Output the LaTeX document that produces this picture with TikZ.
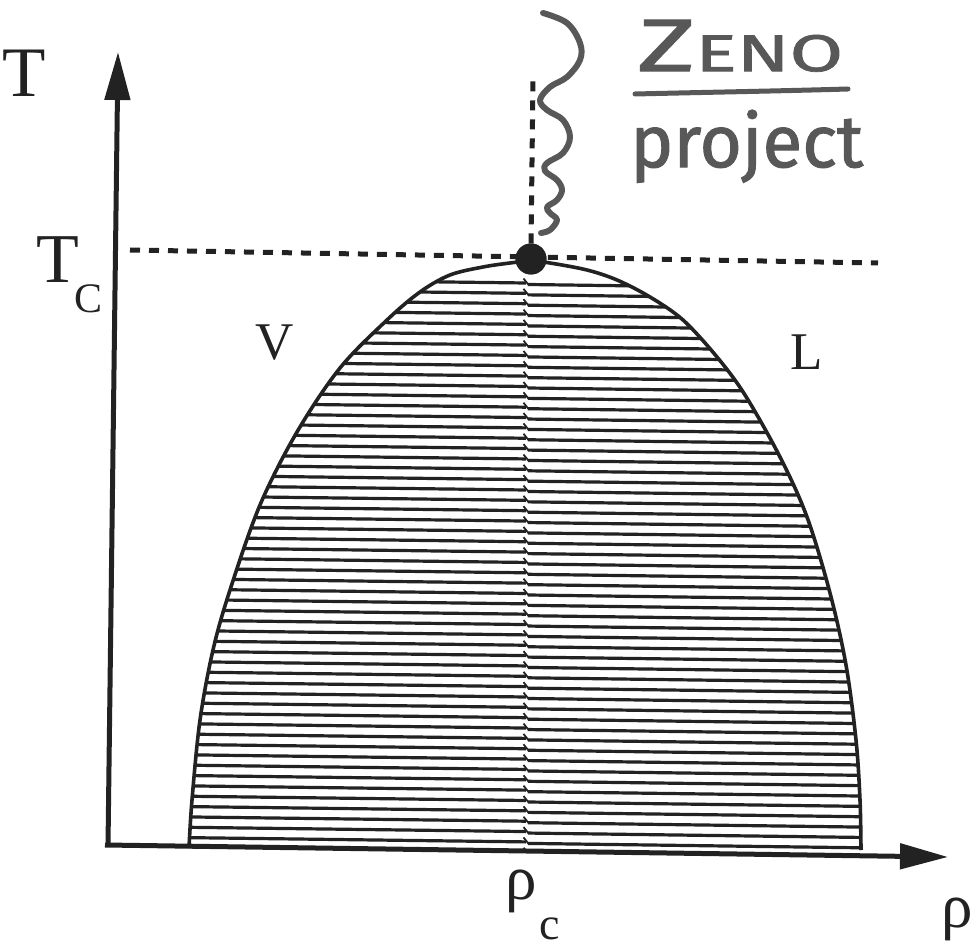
\documentclass[tikz,border=0pt]{standalone}
\usepackage{fontspec}
\setmainfont{Liberation Serif}
\newfontfamily\handfont[FakeBold=1.3]{Fira Sans}
\usetikzlibrary{arrows.meta}
\definecolor{ink}{HTML}{222222}
\definecolor{pencil}{HTML}{585858}
\begin{document}
\begin{tikzpicture}[x=1pt,y=-1pt,
  axis/.style={draw=ink,line width=5pt,-{Triangle[length=48pt,width=25pt]}},
  dashline/.style={draw=ink,line width=5pt,dash pattern=on 10pt off 9pt},
  hatch/.style={draw=ink,line width=3.2pt},
  seam/.style={draw=ink,line width=1.8pt},
  outline/.style={draw=ink,line width=3.6pt},
  lab/.style={inner sep=0pt,text=ink},
  hand/.style={inner sep=0pt,text=pencil,font=\handfont},
  scribble/.style={draw=pencil,line width=6pt,line cap=round,line join=round}]
\useasboundingbox (0,0) rectangle (980,949);
\def\domepath{plot[smooth,tension=0.55] coordinates {(189,848) (192,800) (200,720) (213,650) (230,590) (260,505) (297,432) (340,368) (387,320) (420,292) (450,275) (483,267) (510,263) (531,261) (550,263) (587,270) (617,280) (650,297) (683,320) (717,357) (745,395) (780,457) (807,517) (830,593) (846,665) (856,740) (860,800) (861,850)}}
% axes
\coordinate (o) at (108,846);
\coordinate (ytip) at (118,52);
\coordinate (xtip) at (948,857);
\draw[axis] (o) -- (ytip);
\draw[axis] (105,845) coordinate (xs) -- (xtip);
% hatching
\begin{scope}
\clip \domepath -- cycle;
\foreach \i in {0,...,55}{
  \pgfmathsetmacro\yy{283+10.35*\i}
  \draw[hatch] (170,\yy-4.5) -- (526,\yy);
  \draw[hatch] (528,\yy+1.5) -- (885,\yy+6.2);
  \draw[seam] (523.5,\yy-4.5) -- (528.5,\yy+1.8);
}
\end{scope}
\draw[outline] \domepath;
% critical point
\node[circle,fill=ink,minimum size=31pt,inner sep=0pt] (cp) at (531,259) {};
\coordinate (tcl) at (130,250);
\coordinate (tcr) at (878,263);
\coordinate (vtop) at (533,80);
\draw[dashline] (tcl) -- (tcr);
\draw[dashline] (cp.north) -- (vtop);
\node[circle,fill=ink,minimum size=31pt,inner sep=0pt] at (cp) {};
% labels
\node[lab,anchor=base west,font=\fontsize{71}{71}\selectfont] (tlab) at (2,97) {T};
\node[lab,anchor=base west,font=\fontsize{70}{70}\selectfont] (tclab) at (36,283) {T\kern-4pt\raisebox{-30pt}{\fontsize{42}{42}\selectfont C}};
\node[lab,anchor=base west,font=\fontsize{53}{53}\selectfont] (vlab) at (255,360) {V};
\node[lab,anchor=base west,font=\fontsize{53}{53}\selectfont] (llab) at (790,370) {L};
\node[lab,anchor=base west,font=\fontsize{63}{63}\selectfont] (rhoc) at (505,899) {ρ\kern3pt\raisebox{-40pt}{\fontsize{46}{46}\selectfont c}};
\node[lab,anchor=base west,font=\fontsize{63}{63}\selectfont] (rho) at (941,927) {ρ};
% handwritten note
\node[hand,anchor=south west] (zeno) at (637,72) {\resizebox*{206pt}{52pt}{{\fontsize{72}{72}\selectfont Z}{\fontsize{50}{50}\selectfont ENO}}};
\coordinate (ul1) at (635,94);
\coordinate (ul2) at (848,89);
\draw[scribble,line width=5pt] (ul1) .. controls (720,92) and (780,91) .. (ul2);
\node[hand,anchor=south west] (proj) at (630,183) {\resizebox*{233pt}{73pt}{project}};
\draw[scribble] plot[smooth,tension=0.6] coordinates {(543,13) (567,23) (580,43) (580,60) (567,77) (550,87) (540,100) (547,110) (563,120) (570,137) (563,153) (547,163) (545,171) (557,180) (562,190) (557,200) (547,207) (550,213) (557,220) (550,230) (541,233)};
\end{tikzpicture}
\end{document}
